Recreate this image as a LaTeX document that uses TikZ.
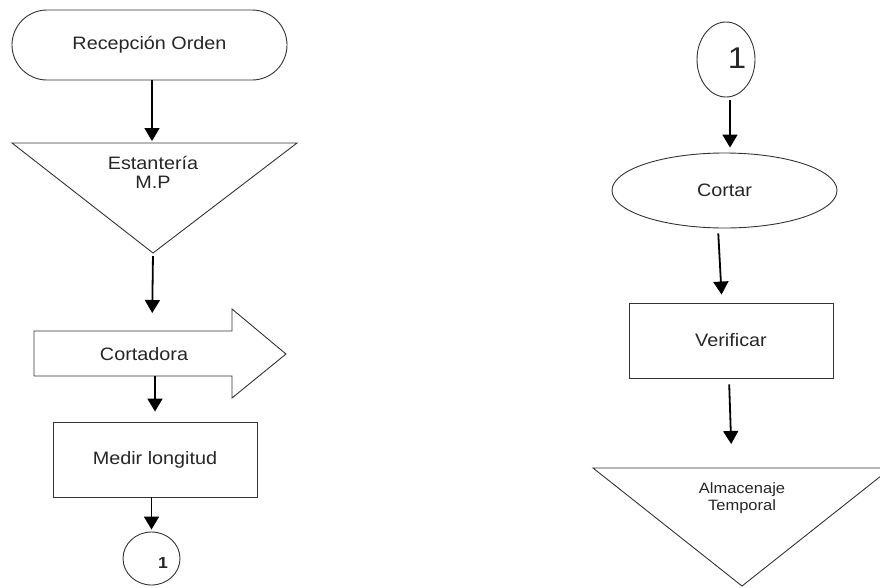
\documentclass[tikz,border=0pt]{standalone}
\usepackage{fontspec}
\setmainfont{Liberation Sans}[FakeStretch=1.1]
\usetikzlibrary{shapes.geometric,arrows.meta}
\begin{document}
\begin{tikzpicture}[x=1pt,y=-1pt,
  outline/.style={draw=black!80,line width=0.9pt},
  flow/.style={line width=1.8pt,-{Triangle[width=15pt,length=13pt]}},
  lbl/.style={font=\fontsize{18}{19}\selectfont,text=black!85,align=center,inner sep=0pt},
  smalllbl/.style={font=\fontsize{15}{17}\selectfont,text=black!85,align=center,inner sep=0pt},
  boxnode/.style={outline,rectangle,inner sep=0pt,minimum width=204pt,minimum height=75pt},
]
\useasboundingbox (0,0) rectangle (880,587);

% ---------- left column ----------
\node[outline,rectangle,rounded corners=35pt,minimum width=275pt,minimum height=70pt,lbl] (recv) at (149.5,45) {Recepción Orden};

% storage triangle (raw material shelf)
\draw[outline] (12,143) -- (297,143) -- (153,253) -- cycle;
\coordinate (st-in) at (152,143);
\coordinate (st-out) at (153,253);
\node[lbl] (st) at (153,172.5) {Estantería\\M.P};

% block arrow (cutting machine)
\draw[outline] (34,331) -- (232,331) -- (232,309) -- (286,354) -- (232,398) -- (232,376) -- (34,376) -- cycle;
\coordinate (cut-in) at (152,331);
\coordinate (cut-out) at (155,376);
\node[lbl] (cut) at (144,354) {Cortadora};

\node[boxnode,lbl] (meas) at (155,459.5) {Medir longitud};

% off-page connector
\node[outline,ellipse,inner sep=0pt,minimum width=57pt,minimum height=53pt] (con1) at (151.5,558.5) {};
\node[font=\fontsize{16}{16}\selectfont\bfseries,text=black!85,inner sep=0pt] (con1-num) at (163,563) {1};

\draw[flow,shorten >=2pt] (recv.south -| st-in) -- (st-in);
\draw[flow,shorten <=3pt,shorten >=18pt] (st-out) -- (cut-in);
\draw[flow,shorten >=10pt] (cut-out) -- (meas.north -| cut-out);
\draw[flow,shorten >=2pt] (meas.south -| con1) -- (con1.north);

% ---------- right column ----------
\node[outline,ellipse,inner sep=0pt,minimum width=58pt,minimum height=75pt] (con2) at (726,59.5) {};
\node[font=\fontsize{30}{30}\selectfont,text=black!85,inner sep=0pt] (con2-num) at (737,58) {1};

\node[outline,ellipse,inner sep=0pt,minimum width=225pt,minimum height=75pt,lbl] (cutr) at (724.5,190.5) {Cortar};

\node[boxnode,lbl] (verif) at (731,340.5) {Verificar};

% storage triangle (temporary storage)
\draw[outline] (593,468) -- (891,468) -- (742,586) -- cycle;
\coordinate (alm-in) at (732,468);
\node[smalllbl] (alm) at (742,498.5) {Almacenaje\\Temporal};

\draw[flow,shorten <=3pt,shorten >=5pt] ([xshift=4pt]con2.south) -- ([xshift=5.5pt]cutr.north);
\draw[flow,shorten <=5pt,shorten >=8pt] ([xshift=-6.5pt]cutr.south) -- ([xshift=-9pt]verif.north);
\draw[flow,shorten <=6pt,shorten >=24pt] ([xshift=-2pt]verif.south) -- (alm-in);
\end{tikzpicture}
\end{document}
